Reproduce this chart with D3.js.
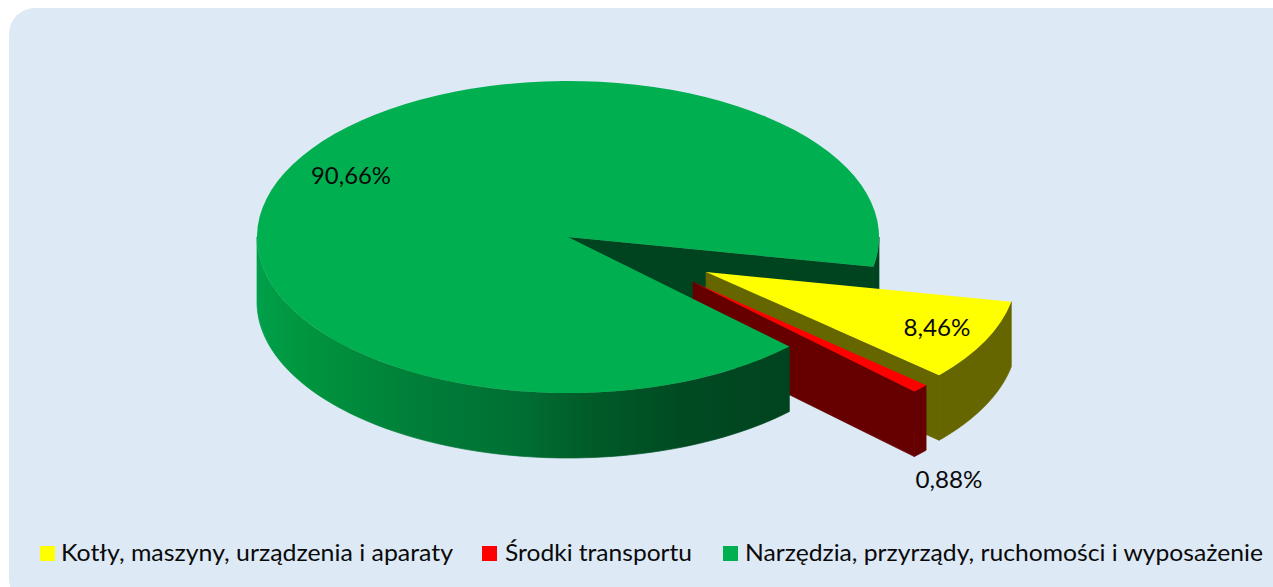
<!DOCTYPE html>
<html><head><meta charset="utf-8">
<script src="https://cdn.jsdelivr.net/npm/d3@7/dist/d3.min.js"></script>
<style>html,body{margin:0;padding:0;background:#fff;overflow:hidden}svg{display:block}text{font-family:Lato,"Noto Sans",sans-serif;fill:#0a0a0a}</style>
</head><body><svg id="c" width="1273" height="587"></svg>
<script>
const categories = ["Kotły, maszyny, urządzenia i aparaty", "Środki transportu", "Narzędzia, przyrządy, ruchomości i wyposażenie"];
const values = [8.46, 0.88, 90.66];
const valueLabels = ["8,46%", "0,88%", "90,66%"];
const topColors = ["#ffff00", "#ff0000", "#00b050"];
const wallColors = ["#666600", "#660000", "#00441f"];

const W = 1273, H = 587, cx = 568, cy = 237, rx = 311, ry = 156, depth = 65;
const deg = Math.PI / 180;
const offsets = [[138, 35], [125, 45], [0, 0]];
const labelPos = [[937, 336], [949, 488], [351, 184]];
const legendMarkX = [40, 482, 723], legendTextX = [61, 505, 745], legendTextW = [392, 187, 518];

const svg = d3.select("#c");
const defs = svg.append("defs");
const grad = defs.append("linearGradient").attr("id", "front").attr("gradientUnits", "userSpaceOnUse")
  .attr("x1", 257).attr("x2", 789).attr("y1", 0).attr("y2", 0);
[[0, "#00a04a"], [0.08, "#00963f"], [0.28, "#008039"], [0.5, "#006e32"], [0.62, "#005c29"], [0.8, "#004a22"], [1, "#00441f"]]
  .forEach(s => grad.append("stop").attr("offset", s[0]).attr("stop-color", s[1]));

svg.append("rect").attr("x", 9).attr("y", 8).attr("width", W + 20).attr("height", H + 10).attr("rx", 26).attr("fill", "#dde9f5");

const slices = d3.pie().sort(null).startAngle(101 * deg).endAngle((101 + 360) * deg)(values);
const arcTop = d3.arc().innerRadius(0).outerRadius(rx);
const yScale = ry / rx;

const pt = (a, off, dy = 0) => [cx + off[0] + rx * Math.sin(a), cy + off[1] - ry * Math.cos(a) + dy];
const line = d3.line();
const outerWall = (a0, a1, off) => {
  const n = 80, top = d3.range(n + 1).map(i => pt(a0 + (a1 - a0) * i / n, off));
  const bottom = top.slice().reverse().map(p => [p[0], p[1] + depth]);
  return line(top.concat(bottom)) + "Z";
};
const cutWall = (a, off) => {
  const c = [cx + off[0], cy + off[1]], p = pt(a, off);
  return line([c, p, [p[0], p[1] + depth], [c[0], c[1] + depth]]) + "Z";
};
const topFace = (s, off) => svg.append("path")
  .attr("d", arcTop({startAngle: s.startAngle, endAngle: s.endAngle}))
  .attr("transform", `translate(${cx + off[0]},${cy + off[1]}) scale(1,${yScale})`)
  .attr("fill", topColors[s.index]);
const wall = (d, fill) => svg.append("path").attr("d", d).attr("fill", fill).attr("stroke", fill).attr("stroke-width", 0.7);

const [sy, sr, sg] = slices;
// green: rear pieces that sit behind the exploded slices
wall(outerWall(90 * deg, sg.endAngle - 2 * Math.PI, offsets[2]), wallColors[2]);
wall(cutWall(sg.endAngle, offsets[2]), wallColors[2]);
// yellow
wall(outerWall(sy.startAngle, sy.endAngle, offsets[0]), wallColors[0]);
wall(cutWall(sy.endAngle, offsets[0]), wallColors[0]);
topFace(sy, offsets[0]);
// red
wall(outerWall(sr.startAngle, sr.endAngle, offsets[1]), wallColors[1]);
wall(cutWall(sr.endAngle, offsets[1]), wallColors[1]);
topFace(sr, offsets[1]);
// green front
wall(outerWall(sg.startAngle, 270 * deg, offsets[2]), "url(#front)");
topFace(sg, offsets[2]);

valueLabels.forEach((t, i) => svg.append("text").attr("x", labelPos[i][0]).attr("y", labelPos[i][1])
  .attr("text-anchor", "middle").attr("font-size", 24).attr("textLength", i === 2 ? 80 : 67).attr("lengthAdjust", "spacingAndGlyphs").text(t));

categories.forEach((t, i) => {
  svg.append("rect").attr("x", legendMarkX[i]).attr("y", 546).attr("width", 15).attr("height", 15).attr("fill", topColors[i]);
  svg.append("text").attr("x", legendTextX[i]).attr("y", 561).attr("font-size", 24)
    .attr("textLength", legendTextW[i]).attr("lengthAdjust", "spacingAndGlyphs").text(t);
});
</script></body></html>
